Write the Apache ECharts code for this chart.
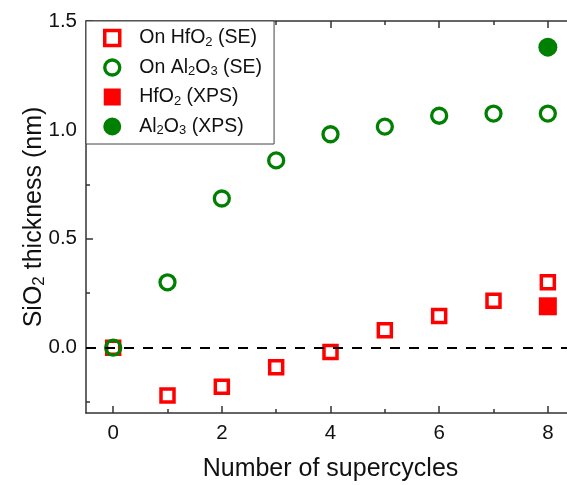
<!DOCTYPE html>
<html>
<head>
<meta charset="utf-8">
<script src="https://cdn.jsdelivr.net/npm/echarts@6/dist/echarts.min.js"></script>
<style>
  html, body { margin: 0; padding: 0; background: #fff; }
  #chart { width: 567px; height: 485px; }
</style>
</head>
<body>
<div id="chart"></div>
<script>
// data
const cycles = [0, 1, 2, 3, 4, 5, 6, 7, 8]
const seHfO2 = [0.0, -0.22, -0.18, -0.09, -0.02, 0.08, 0.145, 0.215, 0.30]
const seAl2O3 = [0.0, 0.30, 0.685, 0.86, 0.98, 1.015, 1.065, 1.075, 1.075]
const xpsCycles = [8]
const xpsHfO2 = [0.19]
const xpsAl2O3 = [1.38]

const xMajorTicks = [0, 2, 4, 6, 8]
const xMinorTicks = [1, 3, 5, 7]
const yMajorTicks = [0, 0.5, 1.0, 1.5]
const yMinorTicks = [-0.25, 0.25, 0.75, 1.25]

const RED = '#ff0000'
const GREEN = '#008000'
const AXIS = '#333'
const FONT = 'Liberation Sans, Arial, sans-serif'
const SQUARE = 'path://M0,0L10,0L10,10L0,10Z'

const legendLabels = {
  'On HfO2 (SE)': 'On HfO{sub|2} (SE)',
  'On Al2O3 (SE)': 'On Al{sub|2}O{sub|3} (SE)',
  'HfO2 (XPS)': 'HfO{sub|2} (XPS)',
  'Al2O3 (XPS)': 'Al{sub|2}O{sub|3} (XPS)'
}

const pairs = (xs, ys) => xs.map((x, i) => [x, ys[i]])

const xAxisBase = {
  type: 'value',
  min: -0.5,
  max: 8.5,
  splitLine: { show: false }
}
const yAxisBase = {
  type: 'value',
  min: -0.3,
  max: 1.5,
  splitLine: { show: false }
}
const tickStyle = { color: AXIS, width: 1.5 }
const lineStyle = { color: AXIS, width: 1.5 }

const option = {
  animation: false,
  textStyle: { fontFamily: FONT },
  grid: {
    left: 86,
    right: -8,
    top: 21,
    bottom: 72,
    outerBoundsMode: 'none'
  },
  legend: {
    orient: 'vertical',
    left: 86,
    top: 21,
    padding: [7, 12, 7, 17],
    itemGap: 9,
    itemWidth: 44,
    itemHeight: 15,
    symbolKeepAspect: true,
    backgroundColor: '#fff',
    borderColor: '#444',
    borderWidth: 1,
    borderRadius: 0,
    z: 10,
    textStyle: {
      fontSize: 19.5,
      color: '#111',
      fontFamily: FONT,
      rich: {
        sub: { fontSize: 13, fontFamily: FONT, color: '#111', padding: [8, 0, 0, 0] }
      }
    },
    formatter: name => legendLabels[name],
    data: [
      { name: 'On HfO2 (SE)', icon: SQUARE, itemStyle: { color: 'rgba(0,0,0,0)', borderColor: RED, borderWidth: 3.5 } },
      { name: 'On Al2O3 (SE)', icon: 'circle', itemStyle: { color: 'rgba(0,0,0,0)', borderColor: GREEN, borderWidth: 3.3 } },
      { name: 'HfO2 (XPS)', icon: SQUARE, itemStyle: { color: RED, borderColor: RED, borderWidth: 2 } },
      { name: 'Al2O3 (XPS)', icon: 'circle', itemStyle: { color: GREEN, borderColor: GREEN, borderWidth: 3 } }
    ]
  },
  xAxis: [
    Object.assign({}, xAxisBase, {
      position: 'bottom',
      axisLine: { onZero: false, lineStyle },
      axisTick: { inside: true, length: 7, customValues: xMajorTicks, lineStyle: tickStyle },
      axisLabel: { customValues: xMajorTicks, fontSize: 20.5, color: '#111', margin: 10, fontFamily: FONT },
      name: 'Number of supercycles',
      nameLocation: 'middle',
      nameGap: 44,
      nameMoveOverlap: false,
      nameTextStyle: { fontSize: 25, color: '#111', fontFamily: FONT }
    }),
    Object.assign({}, xAxisBase, {
      position: 'bottom',
      axisLine: { show: false, onZero: false },
      axisTick: { inside: true, length: 4, customValues: xMinorTicks, lineStyle: tickStyle },
      axisLabel: { show: false }
    }),
    Object.assign({}, xAxisBase, {
      position: 'top',
      axisLine: { onZero: false, lineStyle },
      axisTick: { inside: true, length: 7, customValues: xMajorTicks, lineStyle: tickStyle },
      axisLabel: { show: false }
    }),
    Object.assign({}, xAxisBase, {
      position: 'top',
      axisLine: { show: false, onZero: false },
      axisTick: { inside: true, length: 4, customValues: xMinorTicks, lineStyle: tickStyle },
      axisLabel: { show: false }
    })
  ],
  yAxis: [
    Object.assign({}, yAxisBase, {
      position: 'left',
      axisLine: { onZero: false, lineStyle },
      axisTick: { inside: true, length: 7, customValues: yMajorTicks, lineStyle: tickStyle },
      axisLabel: {
        customValues: yMajorTicks,
        fontSize: 20.5,
        color: '#111',
        margin: 9,
        fontFamily: FONT,
        formatter: v => v.toFixed(1)
      },
      name: 'SiO{sub|2} thickness (nm)',
      nameLocation: 'middle',
      nameGap: 38,
      nameMoveOverlap: false,
      nameTextStyle: {
        fontSize: 25,
        color: '#111',
        fontFamily: FONT,
        rich: {
          sub: { fontSize: 17, fontFamily: FONT, color: '#111', padding: [10, 0, 0, 0] }
        }
      }
    }),
    Object.assign({}, yAxisBase, {
      position: 'left',
      axisLine: { show: false, onZero: false },
      axisTick: { inside: true, length: 4, customValues: yMinorTicks, lineStyle: tickStyle },
      axisLabel: { show: false }
    })
  ],
  series: [
    {
      // dashed zero line
      type: 'line',
      data: [],
      z: 1,
      silent: true,
      markLine: {
        silent: true,
        symbol: 'none',
        label: { show: false },
        lineStyle: { color: '#000', width: 1.8, type: [10, 9] },
        data: [{ yAxis: 0 }]
      }
    },
    {
      type: 'scatter',
      name: 'On HfO2 (SE)',
      symbol: 'rect',
      symbolSize: 13,
      z: 3,
      itemStyle: { color: 'rgba(0,0,0,0)', borderColor: RED, borderWidth: 3.5, opacity: 1 },
      data: pairs(cycles, seHfO2)
    },
    {
      type: 'scatter',
      name: 'On Al2O3 (SE)',
      symbol: 'circle',
      symbolSize: 15,
      z: 4,
      itemStyle: { color: 'rgba(0,0,0,0)', borderColor: GREEN, borderWidth: 3.3, opacity: 1 },
      data: pairs(cycles, seAl2O3)
    },
    {
      type: 'scatter',
      name: 'HfO2 (XPS)',
      symbol: 'rect',
      symbolSize: 18,
      z: 5,
      itemStyle: { color: RED, opacity: 1 },
      data: pairs(xpsCycles, xpsHfO2)
    },
    {
      type: 'scatter',
      name: 'Al2O3 (XPS)',
      symbol: 'circle',
      symbolSize: 19,
      z: 5,
      itemStyle: { color: GREEN, opacity: 1 },
      data: pairs(xpsCycles, xpsAl2O3)
    }
  ]
}

const myChart = echarts.init(document.getElementById('chart'))
myChart.setOption(option)
</script>
</body>
</html>
